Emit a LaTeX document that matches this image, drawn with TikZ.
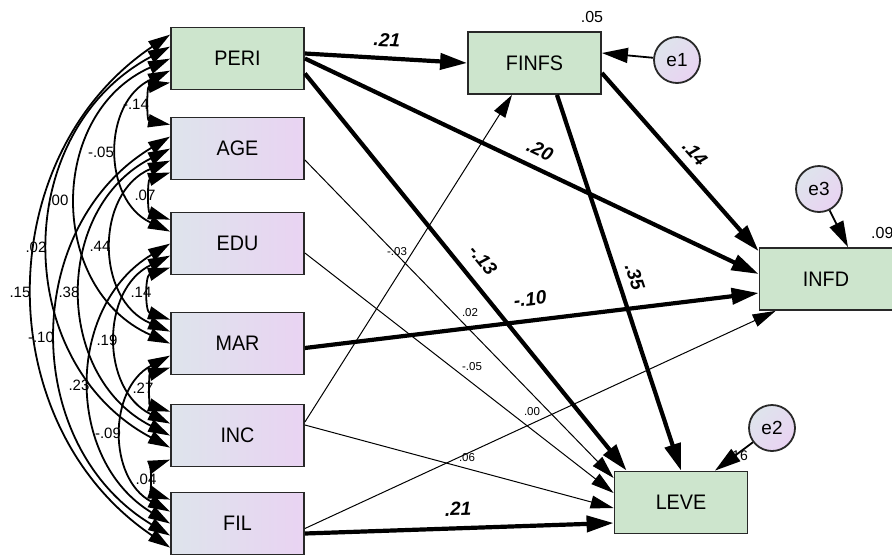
\documentclass[tikz,border=0pt]{standalone}
\usepackage{fontspec}
\setmainfont{Liberation Sans}
\newfontfamily\boxfont[FakeStretch=0.94]{Liberation Sans}
\usetikzlibrary{arrows.meta,calc}

\definecolor{boxgreen}{RGB}{205,229,205}
\definecolor{exoleft}{RGB}{222,228,236}
\definecolor{exoright}{RGB}{233,211,242}
\definecolor{edge}{RGB}{40,40,40}

\begin{document}
\begin{tikzpicture}[x=1pt,y=-1pt,
  obs/.style={draw=edge, line width=1.8pt, minimum width=133pt, minimum height=62pt,
    inner sep=0pt, font=\boxfont\fontsize{21}{21}\selectfont},
  endo/.style={obs, fill=boxgreen},
  exo/.style={obs, left color=exoleft, right color=exoright},
  err/.style={circle, draw=edge, line width=1.8pt, minimum size=46pt, inner sep=0pt,
    top color=exoleft, bottom color=exoright, shading angle=45,
    font=\fontsize{19}{19}\selectfont},
  heavy/.style={line width=4.2pt, -{Triangle[length=27pt,width=16pt]}},
  light/.style={line width=1pt, -{Triangle[length=23pt,width=13pt]}},
  errpath/.style={line width=1.8pt, -{Triangle[length=26pt,width=15pt]}},
  cov/.style={line width=1.8pt, {Triangle[length=22pt,width=13pt]}-{Triangle[length=22pt,width=13pt]}},
  coef/.style={font=\bfseries\itshape\fontsize{19}{19}\selectfont, inner sep=0pt},
  smallcoef/.style={font=\fontsize{11.5}{12}\selectfont, inner sep=0pt},
  corr/.style={font=\fontsize{15}{15}\selectfont, inner sep=0pt},
  rsq/.style={font=\fontsize{16}{16}\selectfont, inner sep=0pt}
]
\useasboundingbox (0,0) rectangle (892,555);
\clip (0,0) rectangle (892,555);

% observed variables
\node[endo] (peri) at (237.5,58.5) {PERI};
\node[exo]  (age)  at (237.5,148.5) {AGE};
\node[exo]  (edu)  at (237.5,243.5) {EDU};
\node[exo]  (mar)  at (237.5,343.5) {MAR};
\node[exo]  (inc)  at (237.5,435.5) {INC};
\node[exo]  (fil)  at (237.5,523.5) {FIL};
\node[endo] (finfs) at (534.5,63) {FINFS};
\node[endo] (infd)  at (826,279) {INFD};
\node[endo] (leve)  at (681,502.5) {LEVE};

% error terms
\node[err] (e1) at (677,60) {e1};
\node[err] (e3) at (819,189) {e3};
\node[err] (e2) at (772,428) {e2};

% covariances among the exogenous variables
\foreach \a/\b/\sa/\sb/\ang in {
  peri/age/4/0/80, peri/edu/3/1/65, peri/mar/2/2/66, peri/inc/1/3/62, peri/fil/0/4/56,
  age/edu/4/0/72, age/mar/3/1/67, age/inc/2/2/63, age/fil/1/3/59,
  edu/mar/4/0/72, edu/inc/3/1/64, edu/fil/2/2/59,
  mar/inc/4/0/72, mar/fil/3/1/62,
  inc/fil/4/0/70}{
  \pgfmathsetmacro\loose{1/(3*cos(\ang/2)^2)/0.3915}
  \draw[cov] ($(\a.north west)+(0,{8+12*\sa})$)
    to[bend right=\ang, looseness=\loose] ($(\b.north west)+(0,{8+12*\sb})$);
}

\node[corr] (c01) at (136,104) {-.14};
\node[corr] (c02) at (101,152) {-.05};
\node[corr] (c03) at (58,200) {.00};
\node[corr] (c04) at (36,247) {.02};
\node[corr] (c05) at (20,292) {.15};
\node[corr] (c12) at (145,195) {.07};
\node[corr] (c13) at (100,246) {.44};
\node[corr] (c14) at (69,292) {.38};
\node[corr] (c15) at (41,337) {-.10};
\node[corr] (c23) at (141,292) {.14};
\node[corr] (c24) at (107,340) {.19};
\node[corr] (c25) at (79,385) {.23};
\node[corr] (c34) at (143,388) {.27};
\node[corr] (c35) at (108,433) {-.09};
\node[corr] (c45) at (146,479) {.04};

% regression paths
\draw[light] ($(age.east)+(0,11.5)$) -- ($(leve.west)+(0,-24.5)$);
\draw[light] ($(edu.east)+(0,9.5)$) -- ($(leve.west)+(0,-9.5)$);
\draw[light] ($(inc.east)+(0,-10.5)$) -- ($(leve.west)+(0,5.5)$);
\draw[light] ($(inc.east)+(0,-13.5)$) -- ($(finfs.south)+(-22.5,0)$);
\draw[light] ($(fil.east)+(0,5)$) -- ($(infd.south west)+(17,0)$);

\draw[heavy] ($(peri.east)+(0,-5)$) -- (finfs.west);
\draw[heavy] (peri.east) -- ($(infd.west)+(0,-5)$);
\draw[heavy] ($(peri.east)+(0,15)$) -- ($(leve.north west)+(13,0)$);
\draw[heavy] ($(finfs.east)+(0,10)$) -- ($(infd.north west)+(0,4)$);
\draw[heavy] ($(finfs.south)+(22.5,0)$) -- (leve.north);
\draw[heavy] ($(mar.east)+(0,4.5)$) -- ($(infd.west)+(0,14)$);
\draw[heavy] ($(fil.east)+(0,10)$) -- ($(leve.west)+(0,20.5)$);

\draw[errpath] (e1) -- ($(finfs.east)+(0,-10)$);
\draw[errpath] (e2) -- ($(leve.north)+(34,0)$);
\draw[errpath] (e3) -- ($(infd.north)+(22,0)$);

% standardized weights
\node[coef, rotate=-3] (w1) at (387,40) {.21};
\node[coef, rotate=-25.3] (w2) at (540,150) {.20};
\node[coef, rotate=-50.9] (w3) at (483,260) {-.13};
\node[coef, rotate=-48.4] (w4) at (695,153) {.14};
\node[coef, rotate=-71.7] (w5) at (635,277) {.35};
\node[coef, rotate=6.9] (w6) at (530,299) {-.10};
\node[coef, rotate=1.8] (w7) at (458,509) {.21};

\node[smallcoef] (s1) at (397,252) {-.03};
\node[smallcoef] (s2) at (470,313) {.02};
\node[smallcoef] (s3) at (472,367) {-.05};
\node[smallcoef] (s4) at (532,412) {.00};
\node[smallcoef] (s5) at (467,458) {.06};

% squared multiple correlations
\node[rsq] (r1) at (592,17) {.05};
\node[rsq, anchor=west] (r2) at (871,233) {.09};
\node[rsq, anchor=east, font=\fontsize{14}{14}\selectfont] (r3) at (748,456) {.16};
\end{tikzpicture}
\end{document}
